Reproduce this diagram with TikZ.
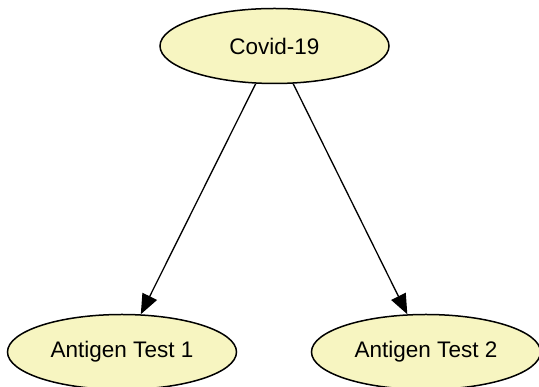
\documentclass[tikz,border=0pt]{standalone}
\usepackage{fontspec}
\setmainfont{Liberation Sans}
\usetikzlibrary{shapes.geometric,arrows.meta}
\definecolor{nodefill}{RGB}{247,245,193}
\tikzset{
  bnode/.style={ellipse,draw=black,fill=nodefill,line width=1.5pt,
    minimum width=229pt,minimum height=75pt,inner sep=0pt,
    font=\fontsize{22.5}{27}\selectfont},
}
\begin{document}
\begin{tikzpicture}[x=1pt,y=1pt]
      \useasboundingbox (0,0) rectangle (539,387);
      \draw
        (274.5,341) node[bnode] (covid){Covid-19}
        (122,35) node[bnode] (test1){Antigen Test 1}
        (426,35) node[bnode] (test2){Antigen Test 2};
      \begin{scope}[-{Triangle[length=20pt,width=16pt]},line width=1.3pt]
        \draw (covid) to (test1);
        \draw (covid) to (test2);
      \end{scope}
    \end{tikzpicture}
\end{document}
